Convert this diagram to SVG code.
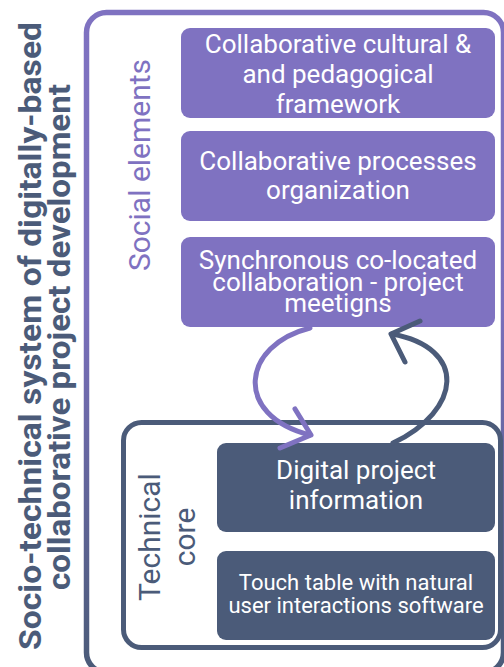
<svg xmlns="http://www.w3.org/2000/svg" width="504" height="667" viewBox="0 0 504 667">
<defs>
<linearGradient id="frameGrad" gradientUnits="userSpaceOnUse" x1="0" y1="12" x2="0" y2="667">
<stop offset="0" stop-color="#7F72C1"/>
<stop offset="0.45" stop-color="#7A6FBC"/>
<stop offset="1" stop-color="#4B5B79"/>
</linearGradient>
<linearGradient id="titleGrad" gradientUnits="userSpaceOnUse" x1="0" y1="650" x2="0" y2="22">
<stop offset="0" stop-color="#7F72C1"/>
<stop offset="0.4" stop-color="#7A70BE"/>
<stop offset="0.75" stop-color="#58658C"/>
<stop offset="1" stop-color="#4B5B79"/>
</linearGradient>
<style>
.title{font-family:Roboto,"Liberation Sans",sans-serif;font-weight:bold;font-size:32px;fill:url(#titleGrad)}
.pbox{fill:#7F72C1}
.dbox{fill:#4B5B79}
.bt{font-family:Roboto,"Liberation Sans",sans-serif;font-size:26px;fill:#FFFFFF;text-anchor:middle}
.bt2{font-family:Roboto,"Liberation Sans",sans-serif;font-size:22px;fill:#FFFFFF;text-anchor:middle}
.side{font-family:Roboto,"Liberation Sans",sans-serif;font-size:30px;text-anchor:middle}
.conn{fill:none;stroke-width:5;stroke-linecap:round;stroke-linejoin:round}
</style>
</defs>
<rect width="504" height="667" fill="#FFFFFF"/>
<g id="title">
<text class="title" transform="translate(41,336) rotate(-90)" text-anchor="middle" textLength="628" lengthAdjust="spacingAndGlyphs">Socio-technical system of digitally-based</text>
<text class="title" transform="translate(70,337) rotate(-90)" text-anchor="middle" textLength="506" lengthAdjust="spacingAndGlyphs">collaborative project development</text>
</g>
<g id="outer-frame">
<rect x="86.5" y="12.5" width="417" height="660" rx="20" fill="none" stroke="url(#frameGrad)" stroke-width="5.5"/>
<text class="side" fill="#7F72C1" transform="translate(150,165) rotate(-90)">Social elements</text>
</g>
<g id="technical-core">
<rect x="123.5" y="422.5" width="377" height="225" rx="18" fill="none" stroke="#4B5B79" stroke-width="5"/>
<text class="side" fill="#4B5B79" transform="translate(160,537) rotate(-90)">Technical</text>
<text class="side" fill="#4B5B79" transform="translate(195,537) rotate(-90)">core</text>
</g>
<g id="box-framework">
<rect class="pbox" x="181" y="28" width="314" height="90" rx="9"/>
<text class="bt" x="338" y="53">Collaborative cultural &amp;</text>
<text class="bt" x="338" y="83">and pedagogical</text>
<text class="bt" x="338" y="113">framework</text>
</g>
<g id="box-processes">
<rect class="pbox" x="181" y="131" width="314" height="90" rx="9"/>
<text class="bt" x="338" y="170">Collaborative processes</text>
<text class="bt" x="338" y="199">organization</text>
</g>
<g id="box-meetings">
<rect class="pbox" x="181" y="237" width="314" height="90" rx="9"/>
<text class="bt" x="338" y="269">Synchronous co-located</text>
<text class="bt" x="338" y="291">collaboration - project</text>
<text class="bt" x="338" y="312">meetigns</text>
</g>
<g id="box-digital-info">
<rect class="dbox" x="217" y="443" width="278" height="89" rx="9"/>
<text class="bt" x="356" y="479">Digital project</text>
<text class="bt" x="356" y="509">information</text>
</g>
<g id="box-touch-table">
<rect class="dbox" x="217" y="551" width="278" height="89" rx="9"/>
<text class="bt2" x="356" y="590">Touch table with natural</text>
<text class="bt2" x="356" y="613">user interactions software</text>
</g>
<g id="connectors">
<path class="conn" stroke="#7F72C1" d="M310,328 C242,345 232,415 310,435"/>
<path class="conn" stroke="#7F72C1" d="M295,409 L311,435 L280,448"/>
<path class="conn" stroke="#4B5B79" d="M393,443 C462,410 468,348 392,334"/>
<path class="conn" stroke="#4B5B79" d="M420,321 L391,334 L405,362"/>
</g>
</svg>
